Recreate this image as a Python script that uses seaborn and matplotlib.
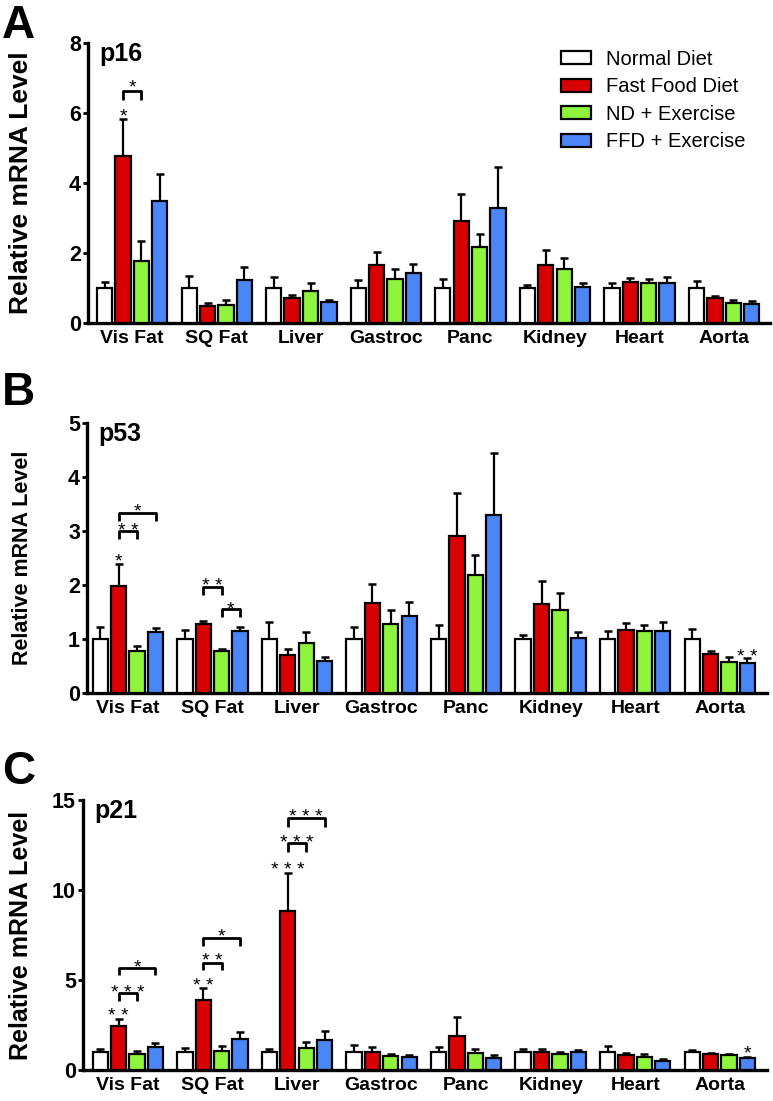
import pandas as pd
import matplotlib.pyplot as plt
import seaborn as sns
from matplotlib.patches import Patch

# --- DATA ---
tissues = ['Vis Fat', 'SQ Fat', 'Liver', 'Gastroc', 'Panc', 'Kidney', 'Heart', 'Aorta']
groups = ['Normal Diet', 'Fast Food Diet', 'ND + Exercise', 'FFD + Exercise']
colors = ['#ffffff', '#d80000', '#8ef53c', '#4a86f6']

# one row per group, one column per tissue
p16_mean = [
    [1.0, 1.0, 1.0, 1.0, 1.0, 1.0, 1.0, 1.0],
    [4.78, 0.50, 0.71, 1.66, 2.91, 1.65, 1.16, 0.72],
    [1.78, 0.51, 0.92, 1.27, 2.18, 1.54, 1.14, 0.58],
    [3.50, 1.22, 0.59, 1.42, 3.30, 1.02, 1.14, 0.55],
]
p16_sem = [
    [0.18, 0.33, 0.32, 0.22, 0.26, 0.08, 0.14, 0.19],
    [1.04, 0.08, 0.10, 0.36, 0.79, 0.43, 0.14, 0.06],
    [0.57, 0.15, 0.21, 0.26, 0.37, 0.32, 0.12, 0.08],
    [0.76, 0.39, 0.07, 0.27, 1.15, 0.11, 0.18, 0.09],
]
p53_mean = [
    [1.0, 1.0, 1.0, 1.0, 1.0, 1.0, 1.0, 1.0],
    [1.99, 1.27, 0.71, 1.66, 2.91, 1.65, 1.16, 0.72],
    [0.78, 0.78, 0.92, 1.27, 2.18, 1.54, 1.14, 0.58],
    [1.13, 1.14, 0.59, 1.42, 3.30, 1.02, 1.14, 0.55],
]
p53_sem = [
    [0.22, 0.16, 0.32, 0.22, 0.26, 0.08, 0.14, 0.19],
    [0.39, 0.07, 0.10, 0.36, 0.79, 0.43, 0.14, 0.06],
    [0.09, 0.04, 0.21, 0.26, 0.37, 0.32, 0.12, 0.08],
    [0.08, 0.08, 0.07, 0.27, 1.15, 0.11, 0.18, 0.09],
]
p21_mean = [
    [1.0, 1.0, 0.98, 1.0, 0.98, 1.0, 0.98, 1.0],
    [2.46, 3.87, 8.85, 1.0, 1.90, 1.0, 0.81, 0.87],
    [0.87, 1.06, 1.20, 0.76, 0.96, 0.89, 0.72, 0.85],
    [1.30, 1.70, 1.67, 0.70, 0.65, 0.98, 0.52, 0.65],
]
p21_sem = [
    [0.17, 0.20, 0.17, 0.39, 0.28, 0.15, 0.37, 0.11],
    [0.39, 0.69, 2.09, 0.26, 1.03, 0.15, 0.15, 0.09],
    [0.20, 0.27, 0.36, 0.13, 0.23, 0.13, 0.17, 0.06],
    [0.20, 0.43, 0.48, 0.11, 0.16, 0.13, 0.07, 0.05],
]

sns.set_style('ticks')
plt.rcParams['font.family'] = ['Liberation Sans', 'DejaVu Sans']
for key in ['text.color', 'axes.labelcolor', 'xtick.color', 'ytick.color', 'axes.edgecolor']:
    plt.rcParams[key] = 'black'

W, H = 773, 1101
fig = plt.figure(figsize=(W / 100, H / 100), dpi=100)

BAR_WIDTH = 0.87


def to_long(mean, sem):
    rows = []
    for gi, g in enumerate(groups):
        for ti, t in enumerate(tissues):
            rows.append({'tissue': t, 'group': g, 'mean': mean[gi][ti], 'sem': sem[gi][ti]})
    return pd.DataFrame(rows)


def draw_panel(rect, mean, sem, ymax, ystep, xlim, gene, label_x, label_size):
    # rect in pixels: left, top, right, bottom
    l, t, r, b = rect
    ax = fig.add_axes([l / W, 1 - b / H, (r - l) / W, (b - t) / H])
    df = to_long(mean, sem)
    sns.barplot(data=df, x='tissue', y='mean', hue='group', order=tissues,
                hue_order=groups, palette=colors, width=BAR_WIDTH, gap=0.17,
                edgecolor='black', linewidth=1.6, errorbar=None, legend=False,
                saturation=1, ax=ax, zorder=3)

    # error bars (upper only) on top of each bar
    centers = {}
    slot = BAR_WIDTH / len(groups)
    for p in ax.patches:
        xc = p.get_x() + p.get_width() / 2
        ti = int(round(xc))
        gi = int(round((xc - ti) / slot + (len(groups) - 1) / 2))
        centers[(ti, gi)] = xc
        h = p.get_height()
        ax.errorbar(xc, h, yerr=[[0], [sem[gi][ti]]], color='black', lw=1.6,
                    capsize=2.8, capthick=1.8, zorder=2)

    ax.set_xlim(*xlim)
    ax.set_ylim(0, ymax)
    ax.set_yticks(range(0, ymax + 1, ystep))
    ax.set_xlabel('')
    ax.set_ylabel('Relative mRNA Level', fontsize=label_size, fontweight='bold')
    ax.yaxis.set_label_coords((label_x - l) / (r - l), 0.5)
    sns.despine(ax=ax)
    for s in ['left', 'bottom']:
        ax.spines[s].set_linewidth(2.4)
    ax.tick_params(axis='y', length=3.5, width=2.0, pad=1.5, labelsize=15.5)
    ax.tick_params(axis='x', length=0, pad=5, labelsize=14)
    for lab in ax.get_xticklabels() + ax.get_yticklabels():
        lab.set_fontweight('bold')
    ax.text(0.017, 1.005, gene, transform=ax.transAxes, fontsize=18,
            fontweight='bold', va='top', ha='left')
    return ax, centers


def stars(ax, x, y, txt):
    ax.annotate(txt, xy=(x, y), xytext=(0, -8.5), textcoords='offset points',
                ha='center', va='baseline', fontsize=14, annotation_clip=False)


def bracket(ax, centers, ti, g1, g2, y, drop, txt, ty):
    x1, x2 = centers[(ti, g1)], centers[(ti, g2)]
    ax.plot([x1, x1, x2, x2], [y - drop, y, y, y - drop], color='black',
            lw=2.0, solid_capstyle='butt', clip_on=False, zorder=4)
    stars(ax, (x1 + x2) / 2, ty, txt)


# --- A: p16 ---
axA, cA = draw_panel((88, 43, 770, 323), p16_mean, p16_sem, 8, 2,
                     (-0.523, 7.543), 'p16', 33, 19)
stars(axA, cA[(0, 1)], 6.1, '*')
bracket(axA, cA, 0, 1, 2, 6.62, 0.24, '*', 6.92)

handles = [Patch(facecolor=c, edgecolor='black', lw=1.6) for c in colors]
fig.legend(handles, groups, loc='upper left', bbox_to_anchor=(561 / W, 1 - 50 / H),
           frameon=False, fontsize=14.5, handlelength=1.5, handleheight=0.62,
           handletextpad=0.75, labelspacing=0.42, borderpad=0, borderaxespad=0)

# --- B: p53 ---
axB, cB = draw_panel((87, 423, 767, 693), p53_mean, p53_sem, 5, 1,
                     (-0.484, 7.558), 'p53', 33, 15.5)
stars(axB, cB[(0, 1)], 2.57, '*')
bracket(axB, cB, 0, 1, 2, 3.0, 0.14, '* *', 3.12)
bracket(axB, cB, 0, 1, 3, 3.33, 0.14, '*', 3.48)
bracket(axB, cB, 1, 1, 2, 1.96, 0.15, '* *', 2.1)
bracket(axB, cB, 1, 2, 3, 1.55, 0.15, '*', 1.68)
stars(axB, cB[(7, 3)], 0.8, '* *')

# --- C: p21 ---
axC, cC = draw_panel((83, 800, 767, 1070), p21_mean, p21_sem, 15, 5,
                     (-0.531, 7.558), 'p21', 33, 18)
stars(axC, cC[(0, 1)], 3.38, '* *')
bracket(axC, cC, 0, 1, 2, 4.26, 0.43, '* * *', 4.68)
bracket(axC, cC, 0, 1, 3, 5.69, 0.41, '*', 6.1)
stars(axC, cC[(1, 1)], 5.05, '* *')
bracket(axC, cC, 1, 1, 2, 5.96, 0.4, '* *', 6.42)
bracket(axC, cC, 1, 1, 3, 7.35, 0.45, '*', 7.78)
stars(axC, cC[(2, 1)], 11.5, '* * *')
bracket(axC, cC, 2, 1, 2, 12.6, 0.5, '* * *', 13.0)
bracket(axC, cC, 2, 1, 3, 14.0, 0.5, '* * *', 14.42)
stars(axC, cC[(7, 3)], 1.32, '*')

# panel letters
for letter, ytop in [('A', 4), ('B', 371), ('C', 750)]:
    fig.text(2 / W, 1 - ytop / H, letter, fontsize=33, fontweight='bold',
             ha='left', va='top')

fig.savefig('out.png', dpi=100)
